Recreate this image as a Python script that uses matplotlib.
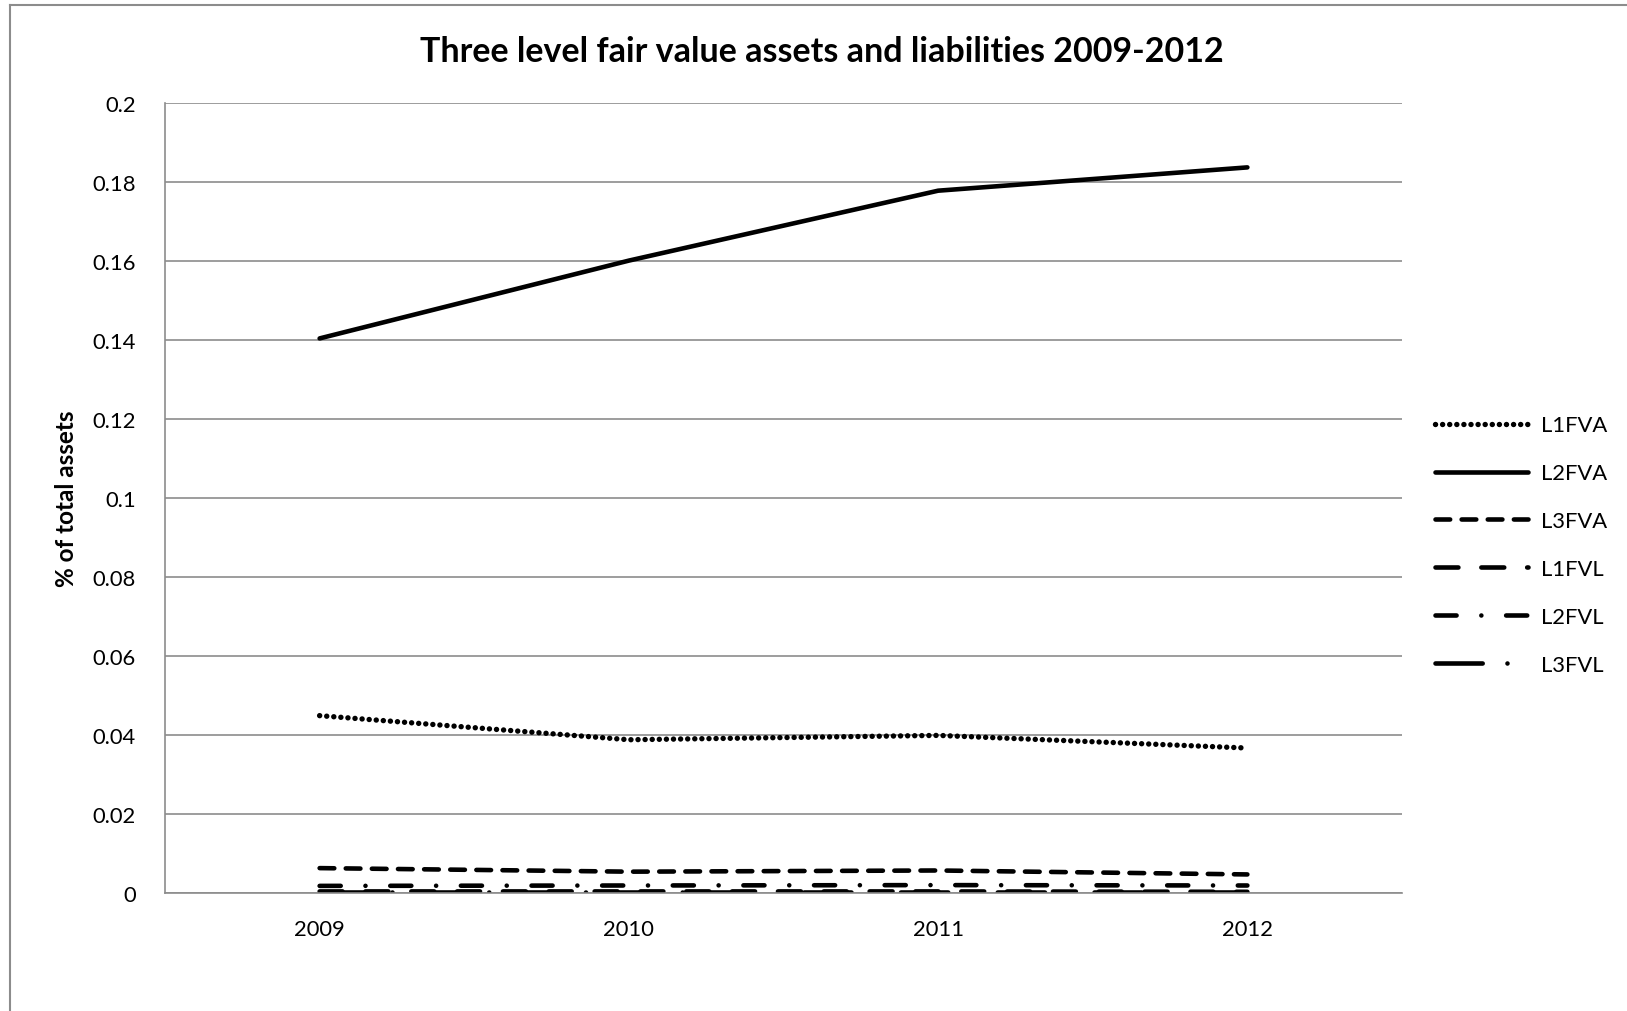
import matplotlib.pyplot as plt
from matplotlib.lines import Line2D

# data
years = ['2009', '2010', '2011', '2012']
l1fva = [0.0449, 0.0388, 0.0399, 0.0367]
l2fva = [0.1404, 0.1601, 0.1778, 0.1837]
l3fva = [0.0063, 0.0054, 0.0057, 0.0047]
l1fvl = [0.0004, 0.0004, 0.0004, 0.0003]
l2fvl = [0.0018, 0.0019, 0.0020, 0.0019]
l3fvl = [0.0002, 0.0002, 0.0002, 0.0002]

names = ['L1FVA', 'L2FVA', 'L3FVA', 'L1FVL', 'L2FVL', 'L3FVL']
series = [l1fva, l2fva, l3fva, l1fvl, l2fvl, l3fvl]
styles = [
    (0, (0.01, 1.3)),
    '-',
    (0, (3.2, 2.5)),
    (0, (5.0, 5.0)),
    (0, (4.6, 5.4, 0.01, 5.4)),
    (0, (10.3, 5.4, 0.01, 5.4)),
]
widths = [3.9, 3.3, 3.3, 3.3, 3.3, 3.3]

plt.rcParams['font.family'] = ['Lato', 'DejaVu Sans']

fig = plt.figure(figsize=(16.27, 10.12), dpi=100)
ax = fig.add_axes([165 / 1627, 1 - 894 / 1012, (1402 - 165) / 1627, (894 - 104) / 1012])

x = list(range(len(years)))
for name, vals, ls, w in zip(names, series, styles, widths):
    ax.plot(x, vals, color='black', lw=w, linestyle=ls,
            dash_capstyle='round', solid_capstyle='round', label=name)

ax.set_xlim(-0.5, 3.5)
ax.set_ylim(0, 0.2)
ax.set_xticks(x)
ax.set_xticklabels(years)
ax.set_yticks([0, 0.02, 0.04, 0.06, 0.08, 0.1, 0.12, 0.14, 0.16, 0.18, 0.2])
ax.set_yticklabels(['0', '0.02', '0.04', '0.06', '0.08', '0.1', '0.12', '0.14', '0.16', '0.18', '0.2'])
ax.tick_params(axis='both', length=0, labelsize=15.8)
ax.tick_params(axis='x', pad=19)
ax.tick_params(axis='y', pad=21)
ax.grid(axis='y', color='#8c8c8c', lw=1.2)
ax.set_axisbelow(True)
for s in ['top', 'right']:
    ax.spines[s].set_visible(False)
for s in ['left', 'bottom']:
    ax.spines[s].set_color('#8c8c8c')
    ax.spines[s].set_linewidth(1.2)

ax.set_ylabel('% of total assets', fontsize=17.5, fontweight='bold', labelpad=10)
fig.text(0.505, 1 - 52 / 1012, 'Three level fair value assets and liabilities 2009-2012',
         ha='center', va='center', fontsize=24.5, fontweight='bold')

fig.legend(loc='center left', bbox_to_anchor=(1415 / 1627, 1 - 546 / 1012), frameon=False,
           fontsize=15.8, handlelength=4.25, handletextpad=0.6, labelspacing=1.27)

# outer chart border (left and top only visible)
fig.add_artist(Line2D([10 / 1627, 10 / 1627], [0, 1 - 6 / 1012], transform=fig.transFigure,
                      color='#8c8c8c', lw=1.5))
fig.add_artist(Line2D([10 / 1627, 1], [1 - 6 / 1012, 1 - 6 / 1012], transform=fig.transFigure,
                      color='#8c8c8c', lw=1.5))

fig.savefig('out.png', dpi=100)
